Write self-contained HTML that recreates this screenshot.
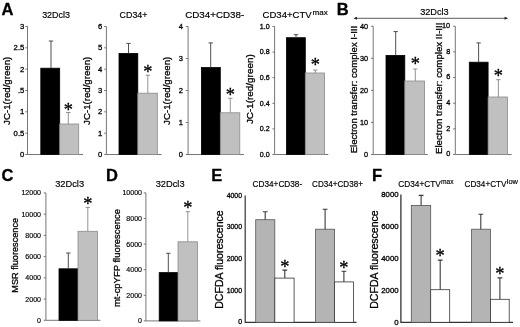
<!DOCTYPE html>
<html lang="en"><head><meta charset="utf-8"><title>Figure</title>
<style>
html,body{margin:0;padding:0;background:#fff}
svg{display:block;font-family:"Liberation Sans",sans-serif}
text{fill:#000;stroke:#000;stroke-width:.3px;paint-order:stroke}
text.st{stroke-width:.32px}
text.lt{stroke-width:.18px}
</style></head><body>
<svg width="520" height="327" viewBox="0 0 520 327">
<defs><filter id="soft" x="0" y="0" width="100%" height="100%" filterUnits="userSpaceOnUse"><feGaussianBlur stdDeviation="0.35"/></filter></defs>
<rect width="520" height="327" fill="#fff"/>
<g filter="url(#soft)">
<path d="M27.5 26.5V154.5H83" stroke="#686868" stroke-width="0.9" fill="none"/>
<path d="M25.3 154.5H27.5M25.3 133.17H27.5M25.3 111.83H27.5M25.3 90.5H27.5M25.3 69.17H27.5M25.3 47.83H27.5M25.3 26.5H27.5" stroke="#686868" stroke-width="0.9" fill="none"/>
<text x="24.3" y="156.97" font-size="7.7" text-anchor="end">0</text>
<text x="24.3" y="135.64" font-size="7.7" text-anchor="end">0.5</text>
<text x="24.3" y="114.31" font-size="7.7" text-anchor="end">1</text>
<text x="24.3" y="92.97" font-size="7.7" text-anchor="end">.5</text>
<text x="24.3" y="71.64" font-size="7.7" text-anchor="end">2</text>
<text x="24.3" y="50.31" font-size="7.7" text-anchor="end">2.5</text>
<text x="24.3" y="28.97" font-size="7.7" text-anchor="end">3</text>
<rect x="40.8" y="68.2" width="18.9" height="86.3" fill="#000" stroke="#000" stroke-width="0.8"/>
<path d="M51 68.2V41M48.8 41H53.2" stroke="#3c3c3c" stroke-width="0.9" fill="none"/>
<path d="M68.3 124V112.5M66.1 112.5H70.5" stroke="#808080" stroke-width="0.85" fill="none"/>
<rect x="59.7" y="124" width="19" height="30.5" fill="#c0c0c0" stroke="#8a8a8a" stroke-width="0.8"/>
<text x="68.3" y="115.9" font-size="18.4" text-anchor="middle" font-family="'Liberation Serif',serif" class="st">*</text>
<text x="56.1" y="18" font-size="9.5" text-anchor="middle" textLength="27.9" lengthAdjust="spacingAndGlyphs" class="lt">32Dcl3</text>
<text transform="translate(9.6 90.8) rotate(-90)" font-size="9.8" text-anchor="middle" textLength="68.2" lengthAdjust="spacingAndGlyphs">JC-1(red/green)</text>
<path d="M106.4 26.5V154.5H161.6" stroke="#686868" stroke-width="0.9" fill="none"/>
<path d="M104.2 154.5H106.4M104.2 133.17H106.4M104.2 111.83H106.4M104.2 90.5H106.4M104.2 69.17H106.4M104.2 47.83H106.4M104.2 26.5H106.4" stroke="#686868" stroke-width="0.9" fill="none"/>
<text x="102.3" y="156.97" font-size="7.7" text-anchor="end">0</text>
<text x="102.3" y="135.64" font-size="7.7" text-anchor="end">1</text>
<text x="102.3" y="114.31" font-size="7.7" text-anchor="end">2</text>
<text x="102.3" y="92.97" font-size="7.7" text-anchor="end">3</text>
<text x="102.3" y="71.64" font-size="7.7" text-anchor="end">4</text>
<text x="102.3" y="50.31" font-size="7.7" text-anchor="end">5</text>
<text x="102.3" y="28.97" font-size="7.7" text-anchor="end">6</text>
<rect x="119" y="53.4" width="18.8" height="101.1" fill="#000" stroke="#000" stroke-width="0.8"/>
<path d="M128.5 53.4V43.4M126.3 43.4H130.7" stroke="#3c3c3c" stroke-width="0.9" fill="none"/>
<path d="M147.8 93.2V75.2M145.6 75.2H150" stroke="#808080" stroke-width="0.85" fill="none"/>
<rect x="137.8" y="93.2" width="19.5" height="61.3" fill="#c0c0c0" stroke="#8a8a8a" stroke-width="0.8"/>
<text x="147.8" y="77.9" font-size="18.4" text-anchor="middle" font-family="'Liberation Serif',serif" class="st">*</text>
<text x="133.5" y="18" font-size="9.5" text-anchor="middle" textLength="27.8" lengthAdjust="spacingAndGlyphs" class="lt">CD34+</text>
<text transform="translate(89.9 90.8) rotate(-90)" font-size="9.8" text-anchor="middle" textLength="68.2" lengthAdjust="spacingAndGlyphs">JC-1(red/green)</text>
<path d="M188.1 26.5V154.5H244" stroke="#686868" stroke-width="0.9" fill="none"/>
<path d="M185.9 154.5H188.1M185.9 122.5H188.1M185.9 90.5H188.1M185.9 58.5H188.1M185.9 26.5H188.1" stroke="#686868" stroke-width="0.9" fill="none"/>
<text x="182.8" y="156.9" font-size="7.5" text-anchor="end">0</text>
<text x="182.8" y="124.9" font-size="7.5" text-anchor="end">1</text>
<text x="182.8" y="92.9" font-size="7.5" text-anchor="end">2</text>
<text x="182.8" y="60.9" font-size="7.5" text-anchor="end">3</text>
<text x="182.8" y="28.9" font-size="7.5" text-anchor="end">4</text>
<rect x="201.4" y="67.5" width="18.9" height="87" fill="#000" stroke="#000" stroke-width="0.8"/>
<path d="M210.7 67.5V42.9M208.5 42.9H212.9" stroke="#3c3c3c" stroke-width="0.9" fill="none"/>
<path d="M230.3 112.8V98.3M228.1 98.3H232.5" stroke="#808080" stroke-width="0.85" fill="none"/>
<rect x="220.3" y="112.8" width="19.5" height="41.7" fill="#c0c0c0" stroke="#8a8a8a" stroke-width="0.8"/>
<text x="230.3" y="100.5" font-size="18.4" text-anchor="middle" font-family="'Liberation Serif',serif" class="st">*</text>
<text x="185.2" y="18" font-size="9.4" text-anchor="start" textLength="59" lengthAdjust="spacingAndGlyphs" class="lt">CD34+CD38-</text>
<text transform="translate(170.3 90.8) rotate(-90)" font-size="9.8" text-anchor="middle" textLength="68.2" lengthAdjust="spacingAndGlyphs">JC-1(red/green)</text>
<path d="M274.6 26.5V154.5H328.3" stroke="#686868" stroke-width="0.9" fill="none"/>
<path d="M272.4 154.5H274.6M272.4 128.9H274.6M272.4 103.3H274.6M272.4 77.7H274.6M272.4 52.1H274.6M272.4 26.5H274.6" stroke="#686868" stroke-width="0.9" fill="none"/>
<text x="269.6" y="156.76" font-size="7.1" text-anchor="end">0.0</text>
<text x="269.6" y="131.16" font-size="7.1" text-anchor="end">0.2</text>
<text x="269.6" y="105.56" font-size="7.1" text-anchor="end">0.4</text>
<text x="269.6" y="79.96" font-size="7.1" text-anchor="end">0.6</text>
<text x="269.6" y="54.36" font-size="7.1" text-anchor="end">0.8</text>
<text x="269.6" y="28.76" font-size="7.1" text-anchor="end">1.0</text>
<rect x="286.4" y="37.7" width="18.9" height="116.8" fill="#000" stroke="#000" stroke-width="0.8"/>
<path d="M296 37.7V34.7M293.8 34.7H298.2" stroke="#3c3c3c" stroke-width="0.9" fill="none"/>
<path d="M315.3 73V70M313.1 70H317.5" stroke="#808080" stroke-width="0.85" fill="none"/>
<rect x="305.3" y="73" width="19.3" height="81.5" fill="#c0c0c0" stroke="#8a8a8a" stroke-width="0.8"/>
<text x="315.3" y="71.4" font-size="18.4" text-anchor="middle" font-family="'Liberation Serif',serif" class="st">*</text>
<text x="262.6" y="18" font-size="9.4" text-anchor="start" textLength="49" lengthAdjust="spacingAndGlyphs" class="lt">CD34+CTV</text>
<text x="312.6" y="14.9" font-size="8" text-anchor="start" textLength="15.2" lengthAdjust="spacingAndGlyphs" class="lt">max</text>
<text transform="translate(252.7 89.2) rotate(-90)" font-size="9.6" text-anchor="middle" textLength="69.8" lengthAdjust="spacingAndGlyphs">JC-1(red/green)</text>
<path d="M373.2 26.2V154.5H427.9" stroke="#686868" stroke-width="0.9" fill="none"/>
<path d="M371 154.5H373.2M371 122.42H373.2M371 90.35H373.2M371 58.27H373.2M371 26.2H373.2" stroke="#686868" stroke-width="0.9" fill="none"/>
<text x="368" y="156.83" font-size="7.3" text-anchor="end">0</text>
<text x="368" y="124.75" font-size="7.3" text-anchor="end">10</text>
<text x="368" y="92.68" font-size="7.3" text-anchor="end">20</text>
<text x="368" y="60.6" font-size="7.3" text-anchor="end">30</text>
<text x="368" y="28.53" font-size="7.3" text-anchor="end">40</text>
<rect x="386" y="55.4" width="18.8" height="99.1" fill="#000" stroke="#000" stroke-width="0.8"/>
<path d="M395.7 55.4V31.6M393.5 31.6H397.9" stroke="#3c3c3c" stroke-width="0.9" fill="none"/>
<path d="M415.3 81V69M413.1 69H417.5" stroke="#808080" stroke-width="0.85" fill="none"/>
<rect x="404.8" y="81" width="19.8" height="73.5" fill="#c0c0c0" stroke="#8a8a8a" stroke-width="0.8"/>
<text x="415.3" y="70.4" font-size="18.4" text-anchor="middle" font-family="'Liberation Serif',serif" class="st">*</text>
<text transform="translate(356.6 89.6) rotate(-90)" font-size="9.8" text-anchor="middle" textLength="127.5" lengthAdjust="spacingAndGlyphs">Electron transfer: complex I-III</text>
<path d="M455.3 26.2V154.5H511.7" stroke="#686868" stroke-width="0.9" fill="none"/>
<path d="M453.1 154.5H455.3M453.1 128.84H455.3M453.1 103.18H455.3M453.1 77.52H455.3M453.1 51.86H455.3M453.1 26.2H455.3" stroke="#686868" stroke-width="0.9" fill="none"/>
<text x="450.2" y="156.23" font-size="7.3" text-anchor="end">0</text>
<text x="450.2" y="130.57" font-size="7.3" text-anchor="end">2</text>
<text x="450.2" y="104.91" font-size="7.3" text-anchor="end">4</text>
<text x="450.2" y="79.25" font-size="7.3" text-anchor="end">6</text>
<text x="450.2" y="53.59" font-size="7.3" text-anchor="end">8</text>
<text x="450.2" y="27.93" font-size="7.3" text-anchor="end">10</text>
<rect x="469.3" y="62.2" width="18.8" height="92.3" fill="#000" stroke="#000" stroke-width="0.8"/>
<path d="M478.6 62.2V42.9M476.4 42.9H480.8" stroke="#3c3c3c" stroke-width="0.9" fill="none"/>
<path d="M498.4 97V79.7M496.2 79.7H500.6" stroke="#808080" stroke-width="0.85" fill="none"/>
<rect x="488.1" y="97" width="19.3" height="57.5" fill="#c0c0c0" stroke="#8a8a8a" stroke-width="0.8"/>
<text x="498.4" y="81.9" font-size="18.4" text-anchor="middle" font-family="'Liberation Serif',serif" class="st">*</text>
<text transform="translate(441.8 88.3) rotate(-90)" font-size="9.8" text-anchor="middle" textLength="131.4" lengthAdjust="spacingAndGlyphs">Electron transfer: complex II-III</text>
<text x="434.4" y="15" font-size="9.6" text-anchor="middle" textLength="28.5" lengthAdjust="spacingAndGlyphs" class="lt">32Dcl3</text>
<path d="M354.5 18.3H507.2" stroke="#333" stroke-width="0.8" fill="none"/>
<path d="M353.6 18.3l3.4 -1.5v3zM508 18.3l-3.4 -1.5v3z" fill="#222"/>
<path d="M45.9 192.9V320.3H100.4" stroke="#686868" stroke-width="0.9" fill="none"/>
<path d="M43.7 320.3H45.9M43.7 299.07H45.9M43.7 277.84H45.9M43.7 256.61H45.9M43.7 235.38H45.9M43.7 214.15H45.9M43.7 192.92H45.9" stroke="#686868" stroke-width="0.9" fill="none"/>
<text x="41" y="322.84" font-size="7.9" text-anchor="end" textLength="3.92" lengthAdjust="spacingAndGlyphs" class="lt">0</text>
<text x="41" y="301.61" font-size="7.9" text-anchor="end" textLength="15.68" lengthAdjust="spacingAndGlyphs" class="lt">2000</text>
<text x="41" y="280.38" font-size="7.9" text-anchor="end" textLength="15.68" lengthAdjust="spacingAndGlyphs" class="lt">4000</text>
<text x="41" y="259.15" font-size="7.9" text-anchor="end" textLength="15.68" lengthAdjust="spacingAndGlyphs" class="lt">6000</text>
<text x="41" y="237.92" font-size="7.9" text-anchor="end" textLength="15.68" lengthAdjust="spacingAndGlyphs" class="lt">8000</text>
<text x="41" y="216.69" font-size="7.9" text-anchor="end" textLength="19.6" lengthAdjust="spacingAndGlyphs" class="lt">10000</text>
<text x="41" y="195.46" font-size="7.9" text-anchor="end" textLength="19.6" lengthAdjust="spacingAndGlyphs" class="lt">12000</text>
<rect x="59" y="268.8" width="19" height="51.5" fill="#000" stroke="#000" stroke-width="0.8"/>
<path d="M68.3 268.8V253M66.1 253H70.5" stroke="#3c3c3c" stroke-width="0.9" fill="none"/>
<path d="M87.8 231.3V207.4M85.6 207.4H90" stroke="#808080" stroke-width="0.85" fill="none"/>
<rect x="78" y="231.3" width="19.4" height="89" fill="#c0c0c0" stroke="#8a8a8a" stroke-width="0.8"/>
<text x="87.8" y="210.4" font-size="18.4" text-anchor="middle" font-family="'Liberation Serif',serif" class="st">*</text>
<text x="69.6" y="187.4" font-size="9.7" text-anchor="middle" textLength="28.9" lengthAdjust="spacingAndGlyphs" class="lt">32Dcl3</text>
<text transform="translate(17.9 255.3) rotate(-90)" font-size="9.7" text-anchor="middle" textLength="74.7" lengthAdjust="spacingAndGlyphs">MSR fluorescence</text>
<path d="M145.9 192.9V320.9H200.4" stroke="#686868" stroke-width="0.9" fill="none"/>
<path d="M143.7 320.9H145.9M143.7 295.3H145.9M143.7 269.7H145.9M143.7 244.1H145.9M143.7 218.5H145.9M143.7 192.9H145.9" stroke="#686868" stroke-width="0.9" fill="none"/>
<text x="142" y="323.44" font-size="7.9" text-anchor="end" textLength="3.92" lengthAdjust="spacingAndGlyphs" class="lt">0</text>
<text x="142" y="297.84" font-size="7.9" text-anchor="end" textLength="15.68" lengthAdjust="spacingAndGlyphs" class="lt">2000</text>
<text x="142" y="272.24" font-size="7.9" text-anchor="end" textLength="15.68" lengthAdjust="spacingAndGlyphs" class="lt">4000</text>
<text x="142" y="246.64" font-size="7.9" text-anchor="end" textLength="15.68" lengthAdjust="spacingAndGlyphs" class="lt">6000</text>
<text x="142" y="221.04" font-size="7.9" text-anchor="end" textLength="15.68" lengthAdjust="spacingAndGlyphs" class="lt">8000</text>
<text x="142" y="195.44" font-size="7.9" text-anchor="end" textLength="19.6" lengthAdjust="spacingAndGlyphs" class="lt">10000</text>
<rect x="159.2" y="272.6" width="18.8" height="48.3" fill="#000" stroke="#000" stroke-width="0.8"/>
<path d="M168.3 272.6V253.3M166.1 253.3H170.5" stroke="#3c3c3c" stroke-width="0.9" fill="none"/>
<path d="M187.8 241.8V211.7M185.6 211.7H190" stroke="#808080" stroke-width="0.85" fill="none"/>
<rect x="178" y="241.8" width="19.4" height="79.1" fill="#c0c0c0" stroke="#8a8a8a" stroke-width="0.8"/>
<text x="187.8" y="214.4" font-size="18.4" text-anchor="middle" font-family="'Liberation Serif',serif" class="st">*</text>
<text x="170.1" y="187.4" font-size="9.7" text-anchor="middle" textLength="28.9" lengthAdjust="spacingAndGlyphs" class="lt">32Dcl3</text>
<text transform="translate(120.3 258) rotate(-90)" font-size="9.7" text-anchor="middle" textLength="98" lengthAdjust="spacingAndGlyphs">mt-cpYFP fluorescence</text>
<path d="M245.2 195.4V322.3H356.5" stroke="#333" stroke-width="1.2" fill="none"/>
<text x="242" y="324.48" font-size="6.9" text-anchor="end">0</text>
<text x="242" y="292.76" font-size="6.9" text-anchor="end">1000</text>
<text x="242" y="261.04" font-size="6.9" text-anchor="end">2000</text>
<text x="242" y="229.32" font-size="6.9" text-anchor="end">3000</text>
<text x="242" y="197.6" font-size="6.9" text-anchor="end">4000</text>
<rect x="255.7" y="219.7" width="19.1" height="102.6" fill="#b4b4b4" stroke="#555" stroke-width="0.8"/>
<path d="M265.2 219.7V211.7M262.8 211.7H267.6" stroke="#3a3a3a" stroke-width="1.1" fill="none"/>
<path d="M284.8 278.1V270.1M282.4 270.1H287.2" stroke="#3a3a3a" stroke-width="1.1" fill="none"/>
<rect x="274.8" y="278.1" width="19.3" height="44.2" fill="#fff" stroke="#333" stroke-width="0.8"/>
<text x="284.8" y="272.7" font-size="18.4" text-anchor="middle" font-family="'Liberation Serif',serif" class="st">*</text>
<rect x="315.6" y="229.2" width="19" height="93.1" fill="#b4b4b4" stroke="#555" stroke-width="0.8"/>
<path d="M325.1 229.2V209.2M322.7 209.2H327.5" stroke="#3a3a3a" stroke-width="1.1" fill="none"/>
<path d="M343.9 281.9V271.3M341.5 271.3H346.3" stroke="#3a3a3a" stroke-width="1.1" fill="none"/>
<rect x="334.6" y="281.9" width="18.9" height="40.4" fill="#fff" stroke="#333" stroke-width="0.8"/>
<text x="343.9" y="273.7" font-size="18.4" text-anchor="middle" font-family="'Liberation Serif',serif" class="st">*</text>
<text x="252.6" y="187.3" font-size="8.8" text-anchor="start" textLength="49.6" lengthAdjust="spacingAndGlyphs" class="lt">CD34+CD38-</text>
<text x="312.1" y="187.3" font-size="8.8" text-anchor="start" textLength="50.8" lengthAdjust="spacingAndGlyphs" class="lt">CD34+CD38+</text>
<text transform="translate(222.8 259.5) rotate(-90)" font-size="10.6" text-anchor="middle" textLength="98.5" lengthAdjust="spacingAndGlyphs">DCFDA fluorescence</text>
<path d="M400.9 194.6V322.3H513" stroke="#333" stroke-width="1.3" fill="none"/>
<text x="398.6" y="324.81" font-size="7.8" text-anchor="end">0</text>
<text x="398.6" y="292.88" font-size="7.8" text-anchor="end">2000</text>
<text x="398.6" y="260.95" font-size="7.8" text-anchor="end">4000</text>
<text x="398.6" y="229.02" font-size="7.8" text-anchor="end">6000</text>
<text x="398.6" y="197.09" font-size="7.8" text-anchor="end">8000</text>
<rect x="411.3" y="205.4" width="19.4" height="116.9" fill="#b4b4b4" stroke="#555" stroke-width="0.8"/>
<path d="M421.1 205.4V195.4M418.7 195.4H423.5" stroke="#3a3a3a" stroke-width="1.1" fill="none"/>
<path d="M440.2 289.7V260.1M437.8 260.1H442.6" stroke="#3a3a3a" stroke-width="1.1" fill="none"/>
<rect x="430.7" y="289.7" width="19" height="32.6" fill="#fff" stroke="#333" stroke-width="0.8"/>
<text x="440.2" y="261.6" font-size="18.4" text-anchor="middle" font-family="'Liberation Serif',serif" class="st">*</text>
<rect x="471.6" y="229.2" width="18.8" height="93.1" fill="#b4b4b4" stroke="#555" stroke-width="0.8"/>
<path d="M480.8 229.2V214.2M478.4 214.2H483.2" stroke="#3a3a3a" stroke-width="1.1" fill="none"/>
<path d="M499.9 299.3V277.9M497.5 277.9H502.3" stroke="#3a3a3a" stroke-width="1.1" fill="none"/>
<rect x="490.4" y="299.3" width="18.8" height="23" fill="#fff" stroke="#333" stroke-width="0.8"/>
<text x="499.9" y="279.6" font-size="18.4" text-anchor="middle" font-family="'Liberation Serif',serif" class="st">*</text>
<text x="398.3" y="187.3" font-size="8.8" text-anchor="start" textLength="42.4" lengthAdjust="spacingAndGlyphs" class="lt">CD34+CTV</text>
<text x="441" y="183.9" font-size="7.2" text-anchor="start" textLength="12.6" lengthAdjust="spacingAndGlyphs" class="lt">max</text>
<text x="464.5" y="187.3" font-size="8.8" text-anchor="start" textLength="42" lengthAdjust="spacingAndGlyphs" class="lt">CD34+CTV</text>
<text x="506.8" y="183.9" font-size="7.5" text-anchor="start" textLength="11.2" lengthAdjust="spacingAndGlyphs" class="lt">low</text>
<text transform="translate(378 259.5) rotate(-90)" font-size="10.6" text-anchor="middle" textLength="98.5" lengthAdjust="spacingAndGlyphs">DCFDA fluorescence</text>
<text x="1.6" y="15.2" font-size="16.5" text-anchor="start" font-weight="bold">A</text>
<text x="336.8" y="15.2" font-size="16.5" text-anchor="start" font-weight="bold">B</text>
<text x="1.4" y="180.6" font-size="16.5" text-anchor="start" font-weight="bold">C</text>
<text x="106" y="180.6" font-size="16.5" text-anchor="start" font-weight="bold">D</text>
<text x="211.2" y="180.6" font-size="16.5" text-anchor="start" font-weight="bold">E</text>
<text x="372" y="180.6" font-size="16.5" text-anchor="start" font-weight="bold">F</text>
</g>
</svg>
</body></html>
